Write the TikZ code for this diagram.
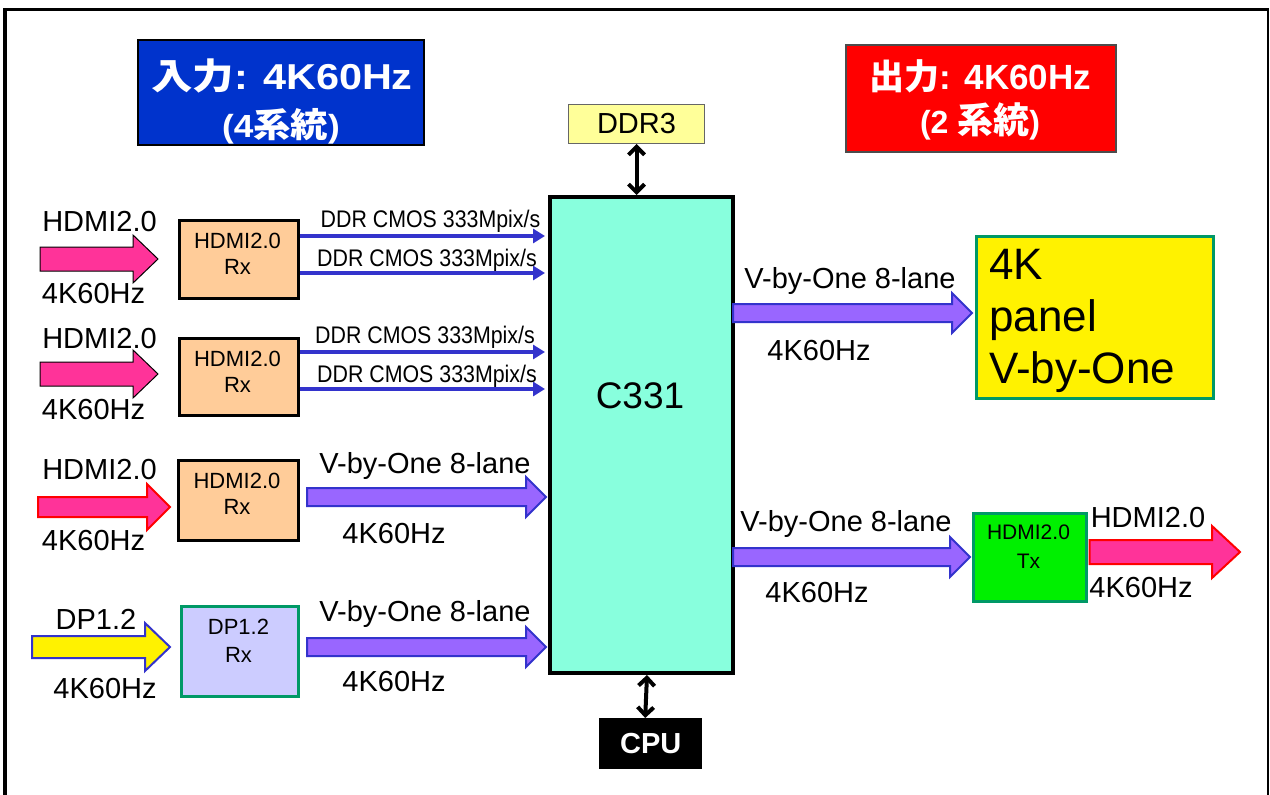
\documentclass[tikz,border=0pt]{standalone}
\usepackage{fontspec}
\setmainfont{Liberation Sans}
\newfontfamily\cjk{Noto Sans CJK JP}
\usetikzlibrary{calc,arrows.meta}
\newcommand\fsz[2]{\fontsize{#1}{#2}\selectfont}
\newcommand\condensed[1]{\scalebox{0.89}[1]{#1}}
\definecolor{tblue}{RGB}{0,51,204}
\definecolor{hpink}{RGB}{255,51,153}
\definecolor{vpurple}{RGB}{153,102,255}
\definecolor{vblue}{RGB}{51,51,204}
\definecolor{aqua}{RGB}{136,255,221}
\definecolor{rxfill}{RGB}{255,204,153}
\definecolor{dpfill}{RGB}{204,204,255}
\definecolor{teal2}{RGB}{0,153,102}
\definecolor{ddrfill}{RGB}{255,255,153}
\definecolor{txgreen}{RGB}{0,240,0}
\begin{document}
\begin{tikzpicture}[x=1pt,y=-1pt,
  lbl/.style={font=\fsz{29}{34}, anchor=base, inner sep=0pt},
  ddrlbl/.style={font=\fsz{24}{28}, anchor=base, inner sep=0pt},
  boxtxt/.style={font=\fsz{22}{26}, align=center, anchor=north, inner sep=0pt},
  ttl/.style={font=\bfseries\fsz{36}{40}, text=white, anchor=base, inner sep=0pt},
  blk/.style={anchor=north west, inner sep=0pt},
  rxb/.style={blk, draw=black, line width=3pt, fill=rxfill},
  fat/.style n args={3}{to path={let \p1=(\tikztostart), \p2=(\tikztotarget) in
      (\x1,\y1+#1) -- (\x2-#3,\y1+#1) -- (\x2-#3,\y1+#2) -- (\x2,\y1)
      -- (\x2-#3,\y1-#2) -- (\x2-#3,\y1-#1) -- (\x1,\y1-#1) -- cycle}},
  pinkin/.style={fat={12pt}{24pt}{25pt}, fill=hpink, draw=black, line width=1pt},
  purp/.style={fat={9pt}{20pt}{20pt}, fill=vpurple, draw=vblue, line width=2pt},
  thinarr/.style={draw=vblue, line width=4pt, -{Triangle[length=12pt,width=14pt]}},
  dbl/.style={line width=4pt, {Straight Barb[length=8pt,width=16pt]}-{Straight Barb[length=8pt,width=16pt]}}
]
\useasboundingbox (0,0) rectangle (1270,795);
% frame
\draw[line width=4pt] (5,795) -- (5,8);
\draw[line width=3pt] (3,9) -- (1269,9);
\draw[line width=2pt] (1268,8) -- (1268,795);

% title boxes
\node[blk, draw=black, line width=1.5pt, fill=tblue, minimum width=286, minimum height=105] (inbox) at (137,39) {};
\node[ttl] (int1) at (282,89) {\scalebox{1.15}[1]{{\cjk 入力}: 4K60Hz}};
\node[ttl] (int2) at (281,137) {\scalebox{1.1}[1]{\fsz{32}{34}(4{\cjk\fsz{34}{36}系統})}};
\node[blk, draw=black!70, line width=1.5pt, fill=red, minimum width=270, minimum height=107] (outbox) at (845,44) {};
\node[ttl, font=\bfseries\fsz{35}{40}] (outt1) at (980.5,89) {{\cjk 出力}: 4K60Hz};
\node[ttl] (outt2) at (980,133) {\fsz{32}{34}(2 {\cjk\fsz{36}{36}系統})};

% main blocks
\node[blk, draw=black, line width=4pt, fill=aqua, minimum width=183, minimum height=476] (c331) at (548,195) {};
\node[font=\fsz{37}{40}, anchor=base, inner sep=0pt] (c331t) at (640,408) {C331};
\node[blk, draw=black!60, line width=1pt, fill=ddrfill, minimum width=136, minimum height=39, font=\fsz{29}{30}] (ddr) at (568,104) {DDR3};
\node[blk, fill=black, minimum width=103, minimum height=51, font=\bfseries\fsz{29}{30}, text=white] (cpu) at (599,718) {CPU};
\draw[dbl] (ddr.south) -- (ddr.south |- c331.north);
\draw[dbl] ($(c331.south)+(5.5,0)$) -- ($(cpu.north)+(-5.5,0)$);

% receivers
\node[rxb, minimum width=119, minimum height=78] (rx1) at (178,219) {};
\node[boxtxt] (rx1t) at (237.5,233) {HDMI2.0\\Rx};
\node[rxb, minimum width=119, minimum height=77] (rx2) at (178,337) {};
\node[boxtxt] (rx2t) at (237.5,351) {HDMI2.0\\Rx};
\node[rxb, minimum width=120, minimum height=80] (rx3) at (177,459) {};
\node[boxtxt] (rx3t) at (237,473) {HDMI2.0\\Rx};
\node[blk, draw=teal2, line width=2.5pt, fill=dpfill, minimum width=117, minimum height=90] (rx4) at (180,605) {};
\node[boxtxt, font=\fsz{22}{28}] (rx4t) at (238.5,619) {DP1.2\\Rx};

% inputs
\coordinate (in1) at (40,259);
\coordinate (in2) at (40,374);
\coordinate (in3) at (38,507);
\coordinate (in4) at (32,647);
\draw[pinkin] (in1) to ($(rx1.west |- in1)+(-20,0)$);
\draw[pinkin] (in2) to ($(rx2.west |- in2)+(-20,0)$);
\draw[fat={10pt}{23pt}{23pt}, fill=hpink, draw=red, line width=2pt] (in3) to ($(rx3.west |- in3)+(-7,0)$);
\draw[fat={11pt}{24pt}{25pt}, fill=yellow, draw=vblue, line width=2pt] (in4) to ($(rx4.west |- in4)+(-10,0)$);
\node[lbl] (i1a) at (99.5,231) {HDMI2.0};
\node[lbl] (i1b) at (93.5,303) {4K60Hz};
\node[lbl] (i2a) at (99.5,348) {HDMI2.0};
\node[lbl] (i2b) at (93.5,419) {4K60Hz};
\node[lbl] (i3a) at (99.5,479) {HDMI2.0};
\node[lbl] (i3b) at (93.5,550) {4K60Hz};
\node[lbl] (i4a) at (96,629) {DP1.2};
\node[lbl] (i4b) at (105,698) {4K60Hz};

% DDR CMOS links
\draw[thinarr] (rx1.east |- 0,236) -- ($(c331.west |- 0,236)+(-3,0)$);
\draw[thinarr] (rx1.east |- 0,273) -- ($(c331.west |- 0,273)+(-3,0)$);
\draw[thinarr] (rx2.east |- 0,352) -- ($(c331.west |- 0,352)+(-3,0)$);
\draw[thinarr] (rx2.east |- 0,389) -- ($(c331.west |- 0,389)+(-3,0)$);
\node[ddrlbl] (d1) at (430.5,227) {\condensed{DDR CMOS 333Mpix/s}};
\node[ddrlbl] (d2) at (427,266) {\condensed{DDR CMOS 333Mpix/s}};
\node[ddrlbl] (d3) at (425,343) {\condensed{DDR CMOS 333Mpix/s}};
\node[ddrlbl] (d4) at (427,382) {\condensed{DDR CMOS 333Mpix/s}};

% V-by-One links (left)
\coordinate (v3) at (307,497);
\coordinate (v4) at (307,647);
\draw[purp] (v3) to ($(c331.west |- v3)+(-2,0)$);
\draw[purp] (v4) to ($(c331.west |- v4)+(-2,0)$);
\node[lbl] (v3a) at (425,473) {V-by-One 8-lane};
\node[lbl] (v3b) at (394,543) {4K60Hz};
\node[lbl] (v4a) at (425,621) {V-by-One 8-lane};
\node[lbl] (v4b) at (394,691) {4K60Hz};

% outputs
\node[blk, draw=teal2, line width=3pt, fill=yellow, minimum width=237, minimum height=162] (panel) at (975,235) {};
\node[font=\fsz{44}{52}, align=left, anchor=north west, inner sep=0pt] (panelt) at (989,249) {4K\\panel\\V-by-One};
\node[blk, draw=teal2, line width=2.5pt, fill=txgreen, minimum width=113, minimum height=88] (tx) at (972,512) {};
\node[boxtxt, font=\fsz{21}{29}] (txt) at (1028.5,525) {HDMI2.0\\Tx};
\coordinate (o1) at (733,313);
\coordinate (o2) at (733,557);
\draw[purp] (o1) to ($(panel.west |- o1)+(-3,0)$);
\draw[purp] (o2) to ($(tx.west |- o2)+(-2,0)$);
\coordinate (hout) at (1240,552);
\draw[fat={12pt}{26pt}{28pt}, fill=hpink, draw=red, line width=2pt] ($(tx.east |- hout)+(2,0)$) to (hout);
\node[lbl] (o1a) at (850,288) {V-by-One 8-lane};
\node[lbl] (o1b) at (819,360) {4K60Hz};
\node[lbl] (o2a) at (846,531) {V-by-One 8-lane};
\node[lbl] (o2b) at (817,602) {4K60Hz};
\node[lbl] (o3a) at (1148,527) {HDMI2.0};
\node[lbl] (o3b) at (1141,597) {4K60Hz};
\end{tikzpicture}
\end{document}
